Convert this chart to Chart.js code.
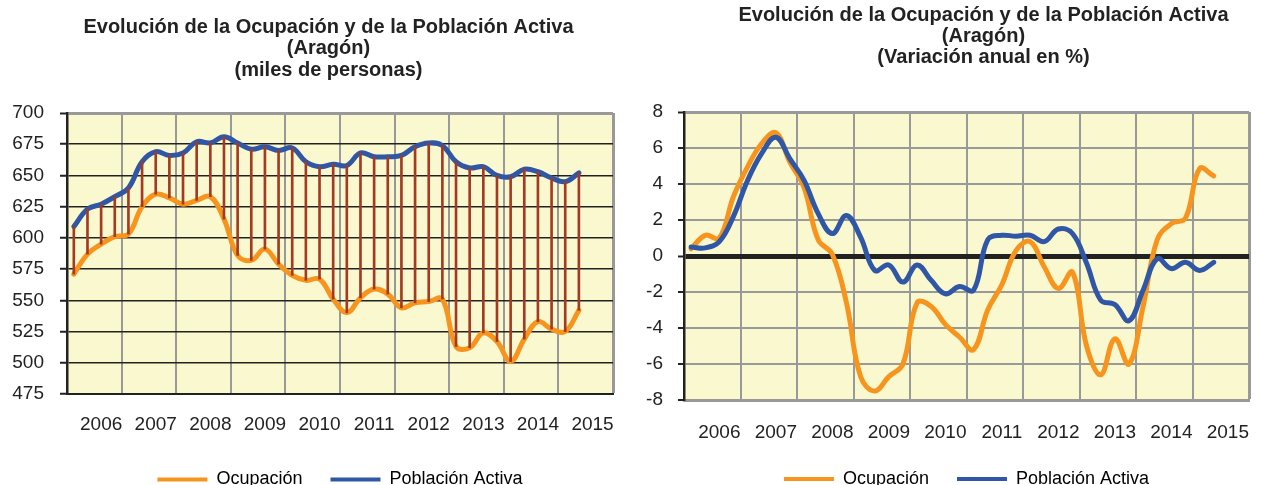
<!DOCTYPE html>
<html lang="es">
<head>
<meta charset="utf-8">
<title>Evolución de la Ocupación y de la Población Activa (Aragón)</title>
<script src="https://cdn.jsdelivr.net/npm/chart.js@4.4.1/dist/chart.umd.min.js"></script>
<style>
  html, body { margin: 0; padding: 0; background: #fff; overflow: hidden; }
  .panel { position: absolute; top: 0; height: 500px; }
  #izq { left: 0; width: 630px; }
  #der { left: 630px; width: 633px; }
</style>
</head>
<body>
<div class="panel" id="izq"><canvas id="graficoMiles"></canvas></div>
<div class="panel" id="der"><canvas id="graficoVar"></canvas></div>
<script>
// trimestres, del III-2005 al II-2015 (los dos ultimos sin dato)
const trimestres = [
  '2005 T3', '2005 T4',
  '2006 T1', '2006 T2', '2006 T3', '2006 T4',
  '2007 T1', '2007 T2', '2007 T3', '2007 T4',
  '2008 T1', '2008 T2', '2008 T3', '2008 T4',
  '2009 T1', '2009 T2', '2009 T3', '2009 T4',
  '2010 T1', '2010 T2', '2010 T3', '2010 T4',
  '2011 T1', '2011 T2', '2011 T3', '2011 T4',
  '2012 T1', '2012 T2', '2012 T3', '2012 T4',
  '2013 T1', '2013 T2', '2013 T3', '2013 T4',
  '2014 T1', '2014 T2', '2014 T3', '2014 T4',
  '2015 T1', '2015 T2'
];

// miles de personas
const ocupacion = [571, 587, 595, 601, 603, 625, 635, 632, 627, 630, 633, 615, 586, 582, 591, 579, 570, 566, 567, 551,
  540, 552, 559, 555, 544, 548, 549, 551, 513, 512, 524, 517, 501, 519, 533, 527, 525, 542];
const poblacionActiva = [609, 623, 627, 633, 640, 661, 669, 666, 668, 677, 676, 681, 676, 671, 673, 670, 672, 661, 657, 659,
  658, 668, 665, 665, 666, 673, 676, 674, 661, 656, 657, 650, 649, 655, 653, 648, 645, 652];

// variacion anual en %
const varOcupacion = [0.4, 1.15, 1.0, 3.3, 4.95, 6.25, 6.85, 5.2, 3.8, 0.9, 0.1, -2.6, -6.7, -7.5, -6.7, -6.0, -2.6, -2.8, -3.8, -4.5,
  -5.2, -3.0, -1.6, 0.3, 0.8, -0.6, -1.8, -0.9, -5.0, -6.6, -4.6, -6.0, -2.8, 0.9, 1.8, 2.1, 4.85, 4.45];
const varPoblacion = [0.5, 0.45, 0.8, 2.2, 4.2, 5.7, 6.6, 5.4, 4.2, 2.35, 1.25, 2.25, 1.05, -0.8, -0.5, -1.45, -0.5, -1.35, -2.1, -1.7,
  -1.9, 0.9, 1.15, 1.1, 1.15, 0.8, 1.5, 1.25, -0.4, -2.45, -2.7, -3.6, -1.9, -0.15, -0.7, -0.35, -0.8, -0.35];

const tituloMiles = ['Evolución de la Ocupación y de la Población Activa', '(Aragón)', '(miles de personas)'];
const tituloVar = ['Evolución de la Ocupación y de la Población Activa', '(Aragón)', '(Variación anual en %)'];

const negro = '#222';
const gris = '#999';
const naranja = '#F7941D';
const azul = '#3056A6';
const granate = '#A33A22';

Chart.defaults.font.family = '"Liberation Sans", Arial, sans-serif';
Chart.defaults.font.size = 19;
Chart.defaults.color = negro;

const fondo = {
  id: 'fondo',
  beforeDraw(chart) {
    const {ctx, chartArea: a} = chart;
    ctx.save();
    ctx.fillStyle = '#FAF8CF';
    ctx.fillRect(a.left, a.top, a.width, a.height);
    ctx.restore();
  }
};

const titulo = {
  id: 'titulo',
  afterDraw(chart, args, opts) {
    const ctx = chart.ctx;
    ctx.save();
    ctx.font = 'bold 20px "Liberation Sans", Arial, sans-serif';
    ctx.fillStyle = negro;
    ctx.textAlign = 'center';
    ctx.textBaseline = 'middle';
    opts.lineas.forEach((t, i) => ctx.fillText(t, opts.x, opts.y[i]));
    ctx.restore();
  }
};

function linea(label, data, color, order) {
  return {
    label, data, order,
    borderColor: color, backgroundColor: color,
    borderWidth: 5, pointRadius: 0, tension: 0.4,
    borderCapStyle: 'round', borderJoinStyle: 'round'
  };
}

function ejeX(alto, padding, colorBorde, anchoBorde) {
  return {
    offset: true,
    grid: {
      offset: true,
      drawTicks: false,
      color: c => c.type !== 'tick' ? gris : (c.index % 4 === 0 && c.index > 0 ? gris : 'rgba(0,0,0,0)'),
      lineWidth: c => c.type !== 'tick' ? 3 : 2
    },
    border: { color: colorBorde, width: anchoBorde },
    ticks: {
      autoSkip: false, maxRotation: 0, minRotation: 0, padding: padding,
      callback: (v, i) => trimestres[i].endsWith('T1') ? trimestres[i].slice(0, 4) : ''
    },
    afterFit: s => { s.height = alto; }
  };
}

const leyenda = {
  position: 'bottom',
  fullSize: false,
  labels: {
    boxWidth: 50, boxHeight: 4, padding: 28, color: negro, font: { size: 18 },
    generateLabels: chart => chart.data.datasets
      .map((d, i) => ({ text: d.label, fillStyle: d.borderColor, strokeStyle: d.borderColor, lineWidth: 0, hidden: false, datasetIndex: i }))
      .filter(it => it.text)
  }
};

new Chart(document.getElementById('graficoMiles'), {
  type: 'line',
  data: {
    labels: trimestres,
    datasets: [
      linea('Ocupación', ocupacion, naranja, 2),
      linea('Población Activa', poblacionActiva, azul, 1),
      {
        type: 'bar', label: '', order: 0,
        data: ocupacion.map((v, i) => [v, poblacionActiva[i]]),
        backgroundColor: granate, barThickness: 2
      }
    ]
  },
  options: {
    responsive: true, maintainAspectRatio: false, animation: false, devicePixelRatio: 1, events: [],
    layout: { padding: { top: 113, right: 17, bottom: 1.5, left: 0 } },
    scales: {
      x: ejeX(48.5, 19, negro, 2),
      y: {
        min: 475, max: 700,
        ticks: { stepSize: 25, padding: 16 },
        grid: {
          color: c => c.tick && c.tick.value === 700 ? gris : negro,
          lineWidth: c => c.tick && c.tick.value === 700 ? 3 : 1.5,
          tickColor: negro, tickLength: 7, tickWidth: 2
        },
        border: { color: negro, width: 2.5 },
        afterFit: s => { s.width = 67; }
      }
    },
    plugins: {
      legend: leyenda,
      tooltip: { enabled: false },
      titulo: { lineas: tituloMiles, x: 328.5, y: [27, 48.5, 70.5] }
    }
  },
  plugins: [fondo, titulo]
});

new Chart(document.getElementById('graficoVar'), {
  type: 'line',
  data: {
    labels: trimestres,
    datasets: [
      linea('Ocupación', varOcupacion, naranja, 2),
      linea('Población Activa', varPoblacion, azul, 1)
    ]
  },
  options: {
    responsive: true, maintainAspectRatio: false, animation: false, devicePixelRatio: 1, events: [],
    layout: { padding: { top: 112, right: 3, bottom: 2, left: 0 } },
    scales: {
      x: ejeX(42, 21, gris, 3),
      y: {
        min: -8, max: 8,
        ticks: { stepSize: 2, padding: 15 },
        grid: {
          color: c => c.tick && c.tick.value === 0 ? negro : gris,
          lineWidth: c => !c.tick ? 2 : (c.tick.value === 0 ? 5 : (c.tick.value === 8 ? 3 : 2)),
          tickColor: negro, tickLength: 6, tickWidth: 2
        },
        border: { color: negro, width: 2.5 },
        afterFit: s => { s.width = 54; }
      }
    },
    plugins: {
      legend: leyenda,
      tooltip: { enabled: false },
      titulo: { lineas: tituloVar, x: 353.5, y: [15, 36, 57] }
    }
  },
  plugins: [fondo, titulo]
});
</script>
</body>
</html>
